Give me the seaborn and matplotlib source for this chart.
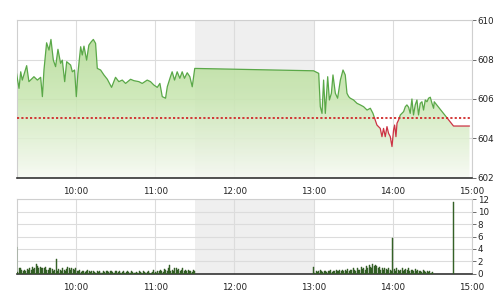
import numpy as np
import pandas as pd
import matplotlib
matplotlib.use("Agg")
import matplotlib.pyplot as plt
import seaborn as sns
from matplotlib.colors import LinearSegmentedColormap

# ---------------- data ----------------
# price line: time in minutes since midnight, index value
price_times = [555, 556.9, 558.2, 559.4, 562.7, 564.4, 568.2, 570.8, 573.3, 574.6,
               575.8, 577.8, 579.6, 581.1, 582.9, 584.6, 586.4, 588.4, 589.7, 591.5,
               593.0, 596.0, 597.3, 599.0, 600.3, 601.5, 603.6, 604.8, 606.1, 608.1,
               609.8, 611.6, 613.2, 614.9, 616.2, 618.7, 621.2, 623.8, 627.0, 630.0,
               632.5, 635.1, 637.6, 641.4, 643.9, 647.7, 650.2, 654.0, 656.5, 659.0,
               661.6, 663.6, 665.4, 667.9, 669.2, 671.6, 672.9, 674.7, 676.7, 678.7,
               680.5, 682.2, 684.3, 686.3, 688.1, 690.0,
               780.0, 783.9, 785.1, 786.4, 787.6, 788.9, 790.7, 792.0, 793.5, 794.7,
               796.5, 798.2, 800.3, 802.3, 804.0, 805.3, 806.6, 807.8, 810.3, 812.9,
               815.4, 817.9, 820.5, 823.0, 825.0, 826.0, 828.0, 830.5, 831.8, 833.0,
               834.3, 835.6, 836.8, 838.1, 839.4, 840.6, 841.4, 842.4, 843.2, 844.4,
               845.7, 848.2, 849.5, 850.7, 852.0, 853.2, 854.5, 855.7, 857.0, 858.3,
               859.5, 860.8, 862.1, 863.3, 864.6, 865.9, 867.1, 868.4, 869.7, 870.9,
               871.4, 886.0, 898.1]
price_values = [607.30, 606.54, 607.38, 606.96, 607.69, 606.88, 607.13, 606.96, 607.10, 606.12,
                607.47, 608.85, 608.48, 609.02, 607.97, 607.64, 608.52, 607.81, 607.97, 606.88,
                607.89, 607.72, 607.38, 607.47, 606.12, 607.30, 608.65, 608.23, 608.68, 607.97,
                608.73, 608.90, 609.02, 608.82, 607.55, 607.47, 607.22, 607.00, 606.59, 607.10,
                606.88, 606.96, 606.79, 607.00, 606.93, 606.88, 606.79, 606.96, 606.88, 606.71,
                606.59, 606.79, 606.12, 606.04, 606.62, 607.13, 607.38, 606.96, 607.38, 607.05,
                607.38, 607.05, 607.33, 607.13, 606.62, 607.55,
                607.43, 607.30, 605.61, 605.27, 606.96, 605.27, 607.13, 605.95, 606.29, 607.22,
                606.29, 606.04, 606.96, 607.47, 607.22, 606.29, 606.12, 606.04, 605.95, 605.78,
                605.70, 605.61, 605.44, 605.53, 605.27, 605.07, 604.68, 604.51, 604.09, 604.51,
                604.09, 604.60, 604.26, 604.09, 603.59, 604.43, 604.68, 604.09, 604.77, 604.94,
                605.19, 605.36, 605.61, 605.70, 605.58, 605.27, 606.00, 605.19, 605.70, 605.95,
                605.19, 605.78, 605.86, 605.44, 605.95, 605.86, 606.04, 606.09, 605.78, 605.53,
                605.86, 604.63, 604.63]
prev_close = 605.05

# volume bars: one per minute
vol_morning = [4.4, 0.3, 0.9, 1.0, 0.6, 0.4, 0.7, 0.5, 0.8, 0.6,
               0.9, 0.7, 1.1, 0.8, 1.0, 1.6, 1.2, 0.9, 1.1, 1.0,
               1.0, 0.9, 1.1, 0.7, 0.6, 0.9, 1.0, 0.8, 0.5, 0.6,
               2.4, 0.5, 0.8, 0.6, 0.4, 0.9, 0.7, 0.5, 0.8, 1.1,
               0.9, 0.7, 1.0, 0.8, 0.6, 0.9, 0.5, 0.4, 0.6, 0.3,
               0.5, 0.4, 0.3, 0.5, 0.6, 0.4, 0.3, 0.5, 0.4, 0.3,
               0.2, 0.4, 0.3, 0.5, 0.3, 0.2, 0.4, 0.3, 0.5, 0.4,
               0.3, 0.5, 0.4, 0.3, 0.2, 0.4, 0.5, 0.3, 0.4, 0.2,
               0.3, 0.4, 0.2, 0.3, 0.5, 0.3, 0.2, 0.4, 0.3, 0.2,
               0.1, 0.3, 0.2, 0.4, 0.3, 0.2, 0.5, 0.3, 0.2, 0.3,
               0.4, 0.2, 0.1, 0.3, 0.6, 0.3, 0.2, 0.5, 0.4, 0.7,
               0.5, 0.3, 0.8, 0.6, 0.4, 0.9, 1.5, 0.5, 0.7, 0.4,
               0.9, 1.0, 0.6, 0.8, 0.5, 0.7, 0.9, 0.4, 0.6, 0.5,
               0.7, 0.4, 0.5, 0.3, 0.6, 0.4]          # 09:15 - 11:30
vol_afternoon = [1.1, 0.2, 0.4, 0.3, 0.5, 0.7, 0.4, 0.3, 0.5, 0.4,
                 0.3, 0.5, 0.4, 0.6, 0.3, 0.5, 0.4, 0.6, 0.5, 0.4,
                 0.6, 0.5, 0.7, 0.4, 0.6, 0.5, 0.8, 0.5, 0.7, 0.6,
                 0.9, 0.6, 0.5, 1.0, 0.7, 0.6, 1.1, 0.8, 0.9, 0.7,
                 1.2, 0.9, 1.4, 1.1, 1.0, 1.6, 1.3, 1.5, 1.2, 0.9,
                 1.1, 0.7, 0.9, 0.6, 1.0, 0.8, 0.6, 0.9, 0.7, 0.5,
                 5.7, 0.8, 0.5, 1.0, 0.6, 0.4, 0.7, 0.9, 0.5, 0.6,
                 0.8, 0.6, 1.0, 0.5, 0.7, 0.6, 0.4, 0.8, 0.5, 0.6,
                 0.4, 0.5, 0.3, 0.6, 0.4, 0.3, 0.5, 0.3, 0.4, 0.2, 0.3]  # 13:00 - 14:30
vol_close_time = 886
vol_close = 11.6

tick_times = [600, 660, 720, 780, 840, 900]
tick_labels = ["10:00", "11:00", "12:00", "13:00", "14:00", "15:00"]
price_ticks = [602, 604, 606, 608, 610]
vol_ticks = [0, 2, 4, 6, 8, 10, 12]
lunch = (690, 780)
x_range = (555, 900)

# ---------------- style ----------------
sns.set_style("white")
plt.rcParams['font.family'] = ['DejaVu Sans']
FS = 6.3
GRID = "#dcdcdc"
GREEN = "#5aa848"
RED = "#cc3344"

fig = plt.figure(figsize=(5, 3), dpi=100)
ax1 = fig.add_axes([0.033, 0.407, 0.911, 0.526])
ax2 = fig.add_axes([0.033, 0.087, 0.911, 0.249])

# ---------- price panel ----------
t = np.array(price_times, dtype=float)
p = np.array(price_values, dtype=float)

ax1.axvspan(*lunch, color="#efefef", zorder=0, lw=0)

poly = ax1.fill_between(t, p, price_ticks[0], facecolor="none", edgecolor="none")
cmap = LinearSegmentedColormap.from_list("g", ["#f6f9f2", "#c8e6b0", "#acd78c"])
grad = np.linspace(0, 1, 256).reshape(-1, 1)
im = ax1.imshow(grad, cmap=cmap, origin="lower", aspect="auto", alpha=0.85,
                extent=[x_range[0], x_range[1], price_ticks[0], price_ticks[-1]], zorder=1)
im.set_clip_path(poly.get_paths()[0], transform=ax1.transData)

# split into above / below previous close segments
tt, pp = [t[0]], [p[0]]
for i in range(1, len(t)):
    a, b = p[i - 1] - prev_close, p[i] - prev_close
    if a * b < 0:
        f = a / (a - b)
        tt.append(t[i - 1] + f * (t[i] - t[i - 1]))
        pp.append(prev_close)
    tt.append(t[i]); pp.append(p[i])
rows = []
seg = 0
cur = None
for i in range(1, len(tt)):
    side = "up" if (pp[i - 1] + pp[i]) / 2 >= prev_close else "down"
    if side != cur:
        seg += 1
        cur = side
        rows.append((tt[i - 1], pp[i - 1], side, seg))
    rows.append((tt[i], pp[i], side, seg))
df = pd.DataFrame(rows, columns=["t", "p", "side", "seg"])
sns.lineplot(data=df, x="t", y="p", hue="side", units="seg", estimator=None, sort=False,
             palette={"up": GREEN, "down": RED}, legend=False, lw=0.9, ax=ax1, zorder=3)

ax1.axhline(prev_close, color="#d02a2a", lw=1.3, ls=(0, (1.2, 1.2)), zorder=4)

ax1.set_xlim(*x_range)
ax1.set_ylim(price_ticks[0], price_ticks[-1])
ax1.set_yticks(price_ticks)
ax1.set_xticks(tick_times)
ax1.set_xticklabels(tick_labels)

# ---------- volume panel ----------
vt = list(range(555, 555 + len(vol_morning))) + list(range(780, 780 + len(vol_afternoon))) + [vol_close_time]
vv = vol_morning + vol_afternoon + [vol_close]
ax2.axvspan(*lunch, color="#efefef", zorder=0, lw=0)
sns.barplot(x=vt, y=vv, native_scale=True, color="#3d6e2c", width=0.75, ax=ax2,
            edgecolor="#2b5220", linewidth=0.3, saturation=1, zorder=3)
ax2.set_xlim(*x_range)
ax2.set_ylim(vol_ticks[0], vol_ticks[-1])
ax2.set_yticks(vol_ticks)
ax2.set_xticks(tick_times)
ax2.set_xticklabels(tick_labels)

for ax in (ax1, ax2):
    ax.set_xlabel("")
    ax.set_ylabel("")
    ax.grid(True, color=GRID, lw=0.8, zorder=0)
    ax.set_axisbelow(True)
    ax.yaxis.tick_right()
    ax.tick_params(axis="y", which="both", right=True, length=3, width=0.6, color="#555555",
                   labelsize=FS, pad=1, labelcolor="#222222")
    ax.tick_params(axis="x", which="both", bottom=False, labelsize=FS, pad=3, labelcolor="#222222")
    for s in ("top", "left", "right"):
        ax.spines[s].set_color("#cfcfcf")
        ax.spines[s].set_linewidth(0.8)
    ax.spines["bottom"].set_color("#333333")
    ax.spines["bottom"].set_linewidth(1.2)

fig.savefig("out.png", dpi=100)
